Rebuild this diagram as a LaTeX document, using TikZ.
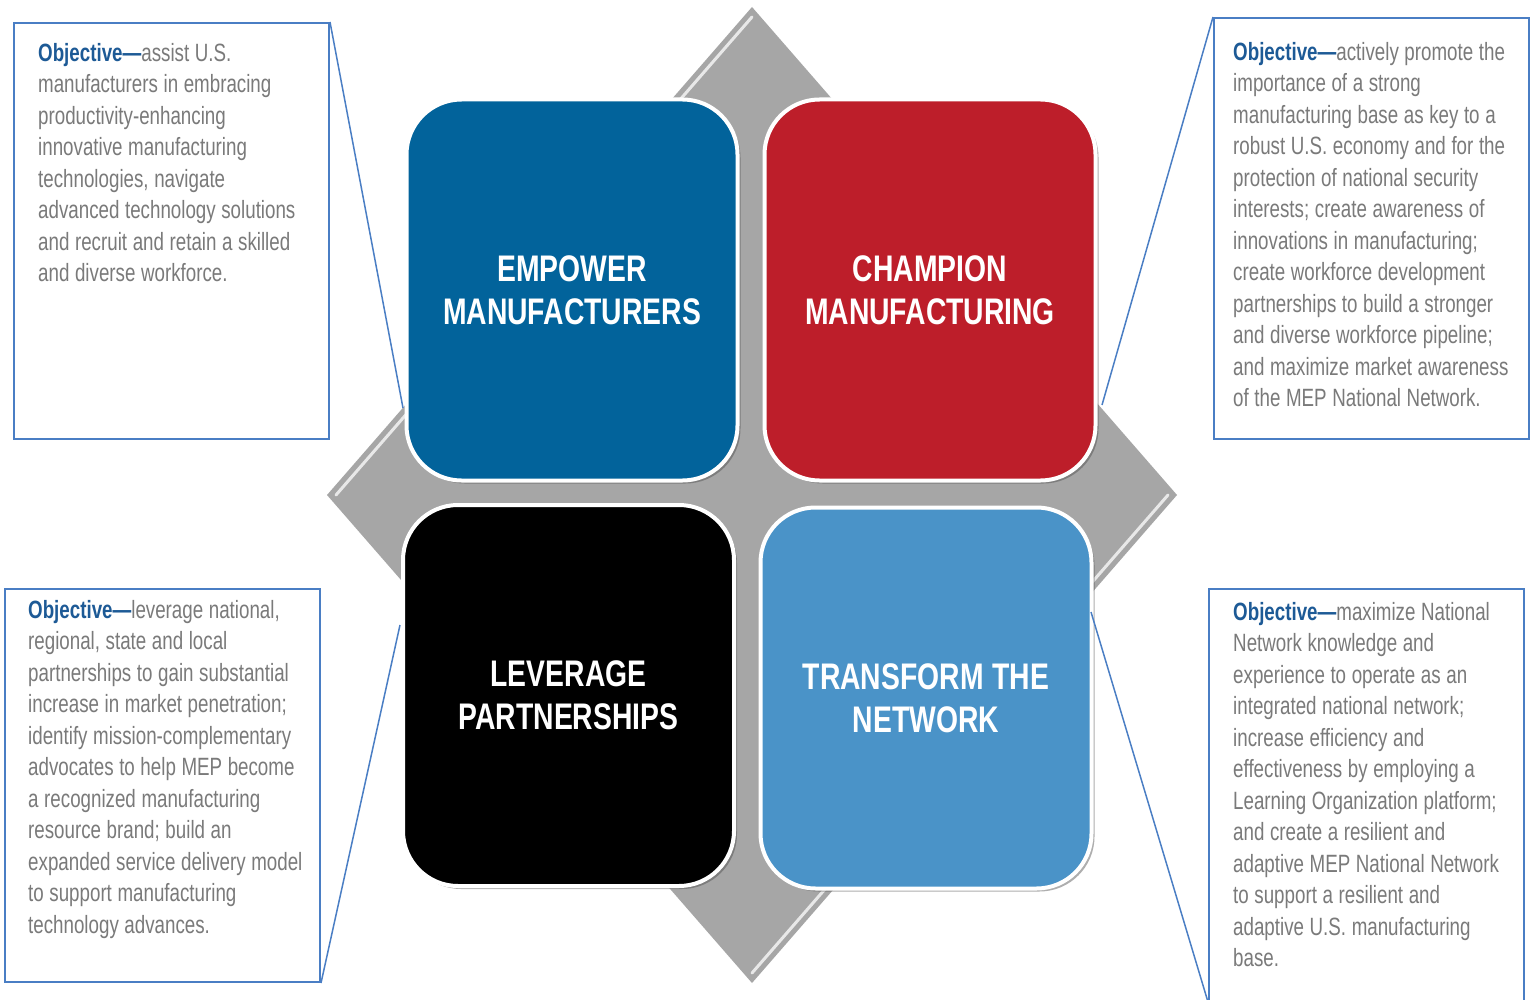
\documentclass[tikz,border=0pt]{standalone}
\usepackage{fontspec}
\setmainfont{Liberation Sans}
\newfontfamily\narrowfont[FakeStretch=0.75]{Liberation Sans}
\newfontfamily\titlefont[FakeStretch=0.765]{Liberation Sans Bold}
\usetikzlibrary{shadows}
\definecolor{empblue}{HTML}{02639B}
\definecolor{chred}{HTML}{BD1E2A}
\definecolor{trblue}{HTML}{4A93C8}
\definecolor{diagray}{HTML}{A6A6A6}
\definecolor{txtgray}{HTML}{7A7A7A}
\definecolor{objblue}{HTML}{1D5A96}
\definecolor{boxblue}{HTML}{4A7EC4}
\newcommand\objlead{\spaceskip=5.6pt\xspaceskip=5.6pt\strut\textcolor{objblue}{\bfseries Objective—}}
\tikzset{
  quad/.style={rounded corners=55pt, draw=white, line width=4pt,
    minimum width=331pt, minimum height=381pt, text=white, align=center,
    font=\titlefont\fontsize{37}{43}\selectfont,
    drop shadow={shadow xshift=3pt, shadow yshift=-3pt, opacity=0.45, fill=black!70}},
  obox/.style={draw=boxblue, line width=2pt, anchor=north west, inner sep=0pt},
  otext/.style={anchor=north west, inner sep=0pt, text width=318pt, align=left,
    text=txtgray, font=\narrowfont\fontsize{25}{31.5}\selectfont},
  callout/.style={draw=boxblue, line width=1.5pt},
  bevel/.style={draw=white, line width=3pt, opacity=0.75, line cap=round}
}
\begin{document}
\begin{tikzpicture}[x=1pt,y=-1pt]
\clip (0,0) rectangle (1530,1000);
\fill[white] (0,0) rectangle (1530,1000);
% diamond
\fill[diagray] (752,7) -- (1177,495) -- (752,983) -- (327,495) -- cycle;
\draw[bevel] (336,495) -- (752,17);
\draw[bevel] (1168,495) -- (752,973);
% quadrants
\node[quad, fill=empblue] (emp) at (572,290) {EMPOWER\\MANUFACTURERS};
\node[quad, fill=chred] (champ) at (930,290) {CHAMPION\\MANUFACTURING};
\node[quad, fill=black] (lev) at (568.5,695.5) {LEVERAGE\\PARTNERSHIPS};
\node[quad, fill=trblue] (trans) at (926,698) {TRANSFORM\hspace{9pt}THE\\NETWORK};
% boxes
\node[obox, minimum width=315pt, minimum height=416pt] (tlbox) at (13,22) {};
\node[obox, minimum width=315pt, minimum height=421pt] (trbox) at (1213,17) {};
\node[obox, minimum width=315pt, minimum height=393pt] (blbox) at (4,588) {};
\node[obox, minimum width=315pt, minimum height=430pt] (brbox) at (1208,588) {};
% texts
\node[otext] (tltext) at (38,39) {\objlead assist U.S.\\
manufacturers in embracing\\
productivity-enhancing\\
innovative manufacturing\\
technologies, navigate\\
advanced technology solutions\\
and recruit and retain a skilled\\
and diverse workforce.};
\node[otext] (trtext) at (1233,38) {\objlead actively promote the\\
importance of a strong\\
manufacturing base as key to a\\
robust U.S. economy and for the\\
protection of national security\\
interests; create awareness of\\
innovations in manufacturing;\\
create workforce development\\
partnerships to build a stronger\\
and diverse workforce pipeline;\\
and maximize market awareness\\
of the MEP National Network.};
\node[otext] (bltext) at (28,596) {\objlead leverage national,\\
regional, state and local\\
partnerships to gain substantial\\
increase in market penetration;\\
identify mission-complementary\\
advocates to help MEP become\\
a recognized manufacturing\\
resource brand; build an\\
expanded service delivery model\\
to support manufacturing\\
technology advances.};
\node[otext] (brtext) at (1233,598) {\objlead maximize National\\
Network knowledge and\\
experience to operate as an\\
integrated national network;\\
increase efficiency and\\
effectiveness by employing a\\
Learning Organization platform;\\
and create a resilient and\\
adaptive MEP National Network\\
to support a resilient and\\
adaptive U.S. manufacturing\\
base.};
% callout lines
\coordinate (tlend) at (403,408);
\coordinate (trend) at (1102,405);
\coordinate (blend) at (400,625);
\coordinate (brend) at (1091,612);
\coordinate (brstart) at (1208,1002);
\draw[callout] (tlbox.north east) -- (tlend);
\draw[callout] (trbox.north west) -- (trend);
\draw[callout] (blbox.south east) -- (blend);
\draw[callout] (brstart) -- (brend);
\end{tikzpicture}
\end{document}
